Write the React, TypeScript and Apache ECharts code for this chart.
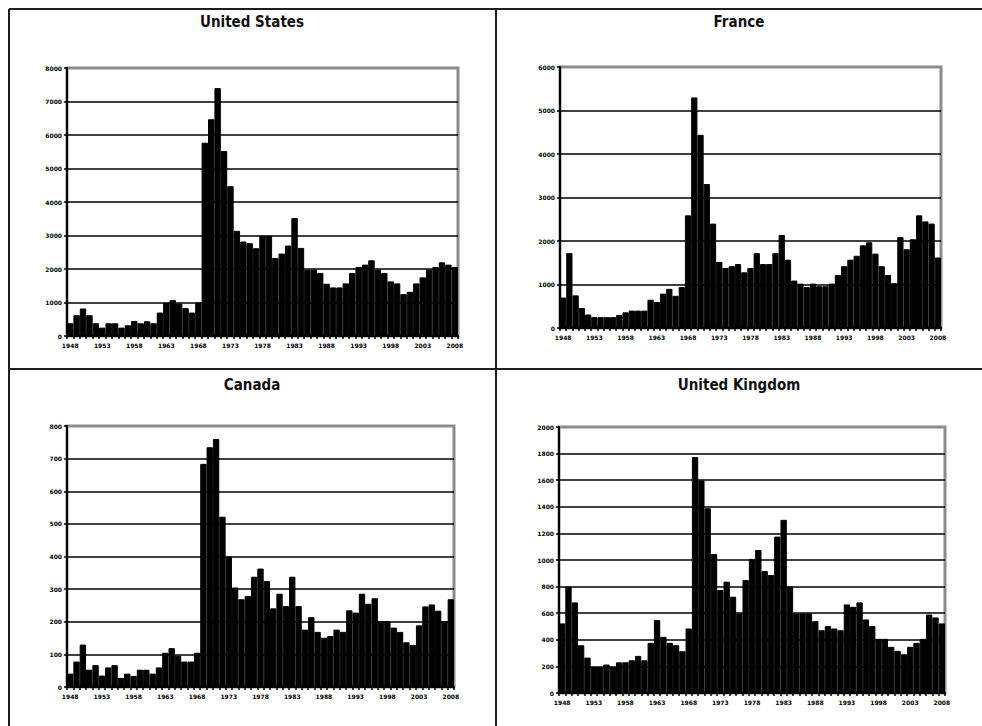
import React, { useEffect, useRef } from "react";
import * as echarts from "echarts";

const years = [
  "1948", "1949", "1950", "1951", "1952", "1953", "1954", "1955", "1956", "1957",
  "1958", "1959", "1960", "1961", "1962", "1963", "1964", "1965", "1966", "1967",
  "1968", "1969", "1970", "1971", "1972", "1973", "1974", "1975", "1976", "1977",
  "1978", "1979", "1980", "1981", "1982", "1983", "1984", "1985", "1986", "1987",
  "1988", "1989", "1990", "1991", "1992", "1993", "1994", "1995", "1996", "1997",
  "1998", "1999", "2000", "2001", "2002", "2003", "2004", "2005", "2006", "2007",
  "2008",
];

const usValues = [
  380, 620, 820, 620, 380, 250, 380, 380, 250, 320,
  450, 380, 440, 380, 700, 990, 1070, 970, 830, 700,
  1000, 5770, 6470, 7400, 5520, 4470, 3140, 2820, 2770, 2620,
  2990, 2990, 2330, 2460, 2700, 3520, 2630, 1980, 1980, 1880,
  1560, 1450, 1450, 1570, 1880, 2060, 2130, 2260, 1980, 1880,
  1630, 1570, 1250, 1320, 1570, 1750, 1980, 2060, 2200, 2130,
  2060,
];

const franceValues = [
  700, 1720, 750, 460, 310, 250, 250, 250, 250, 300,
  360, 400, 400, 400, 650, 600, 790, 900, 740, 940,
  2590, 5300, 4440, 3310, 2400, 1520, 1380, 1420, 1470, 1280,
  1380, 1720, 1470, 1470, 1720, 2140, 1570, 1090, 1020, 940,
  1020, 960, 960, 1020, 1220, 1420, 1570, 1660, 1900, 1970,
  1710, 1420, 1220, 1030, 2090, 1810, 2040, 2590, 2450, 2400,
  1620,
];

const canadaValues = [
  41, 78, 130, 53, 67, 35, 60, 67, 28, 41,
  34, 53, 53, 41, 60, 105, 119, 96, 78, 78,
  105, 684, 735, 760, 522, 400, 305, 269, 279, 338,
  363, 325, 241, 286, 248, 338, 248, 176, 214, 169,
  151, 156, 176, 169, 235, 228, 286, 255, 272, 202,
  202, 182, 169, 137, 129, 189, 247, 253, 234, 202,
  269,
];

const ukValues = [
  523, 800, 681, 359, 266, 196, 196, 214, 196, 231,
  231, 246, 279, 246, 377, 548, 422, 377, 359, 314,
  485, 1774, 1598, 1389, 1045, 774, 837, 724, 598, 849,
  1008, 1075, 917, 887, 1176, 1302, 799, 598, 598, 598,
  540, 472, 503, 485, 472, 666, 648, 681, 553, 503,
  407, 407, 347, 317, 291, 347, 377, 407, 590, 568,
  523,
];

const panelTitles = ["United States", "France", "Canada", "United Kingdom"];
const panelData = [usValues, franceValues, canadaValues, ukValues];
const panelMax = [8000, 6000, 800, 2000];
const panelStep = [1000, 1000, 100, 200];

const layout = [
  { grid: { left: 67, top: 68, width: 391, height: 268 }, tx: 252, ty: 22 },
  { grid: { left: 560, top: 67, width: 381, height: 261 }, tx: 739, ty: 22 },
  { grid: { left: 67, top: 426, width: 387, height: 261 }, tx: 252, ty: 385 },
  { grid: { left: 559, top: 427, width: 386, height: 266 }, tx: 739, ty: 385 },
];

const tickFont = { fontSize: 6, fontWeight: "bold" as const, color: "#000", fontFamily: "DejaVu Sans" };

export default function App() {
  const ref = useRef<HTMLDivElement>(null);
  useEffect(() => {
    if (!ref.current) return;
    const chart = echarts.init(ref.current, undefined, { renderer: "svg" });
    const lineStyle = { stroke: "#1e1e1e", lineWidth: 2 };
    const option: any = {
      animation: false,
      backgroundColor: "#fff",
      grid: layout.map((l) => ({
        ...l.grid,
        show: true,
        borderColor: "#8c8c8c",
        borderWidth: 3,
        backgroundColor: "transparent",
      })),
      xAxis: panelData.map((_, i) => ({
        type: "category",
        gridIndex: i,
        data: years,
        boundaryGap: true,
        axisLine: { show: true, onZero: false, lineStyle: { color: "#000", width: 2 } },
        axisTick: { show: true, interval: 0, length: 3, lineStyle: { color: "#000", width: 1.5 } },
        axisLabel: { ...tickFont, interval: 4, margin: 6 },
        splitLine: { show: false },
      })),
      yAxis: panelData.map((_, i) => ({
        type: "value",
        gridIndex: i,
        min: 0,
        max: panelMax[i],
        interval: panelStep[i],
        axisLine: { show: true, lineStyle: { color: "#000", width: 2 } },
        axisTick: { show: true, length: 3, lineStyle: { color: "#000", width: 1.5 } },
        axisLabel: { ...tickFont, margin: 5, formatter: (v: number) => String(v) },
        splitLine: {
          show: true,
          showMinLine: false,
          showMaxLine: false,
          lineStyle: { color: "#000", width: 1.5 },
        },
      })),
      series: panelData.map((d, i) => ({
        type: "bar",
        xAxisIndex: i,
        yAxisIndex: i,
        data: d,
        barCategoryGap: "0%",
        itemStyle: { color: "#000", borderColor: "#000", borderWidth: 1 },
        silent: true,
      })),
      graphic: [
        { type: "line", shape: { x1: 9, y1: 9, x2: 982, y2: 9 }, style: lineStyle, z: 100 },
        { type: "line", shape: { x1: 9, y1: 9, x2: 9, y2: 726 }, style: lineStyle, z: 100 },
        { type: "line", shape: { x1: 496, y1: 9, x2: 496, y2: 726 }, style: lineStyle, z: 100 },
        { type: "line", shape: { x1: 9, y1: 369, x2: 982, y2: 369 }, style: lineStyle, z: 100 },
        ...layout.map((l, i) => ({
          type: "text",
          x: l.tx,
          y: l.ty,
          z: 100,
          style: {
            text: panelTitles[i],
            fontSize: 15,
            fontWeight: "bold",
            fontFamily: "DejaVu Sans Condensed, DejaVu Sans, sans-serif",
            fill: "#111",
            align: "center",
            verticalAlign: "middle",
          },
        })),
      ],
    };
    chart.setOption(option);
    return () => chart.dispose();
  }, []);
  return (
    <div
      ref={ref}
      style={{ position: "absolute", left: 0, top: 0, width: 982, height: 726 }}
    />
  );
}
